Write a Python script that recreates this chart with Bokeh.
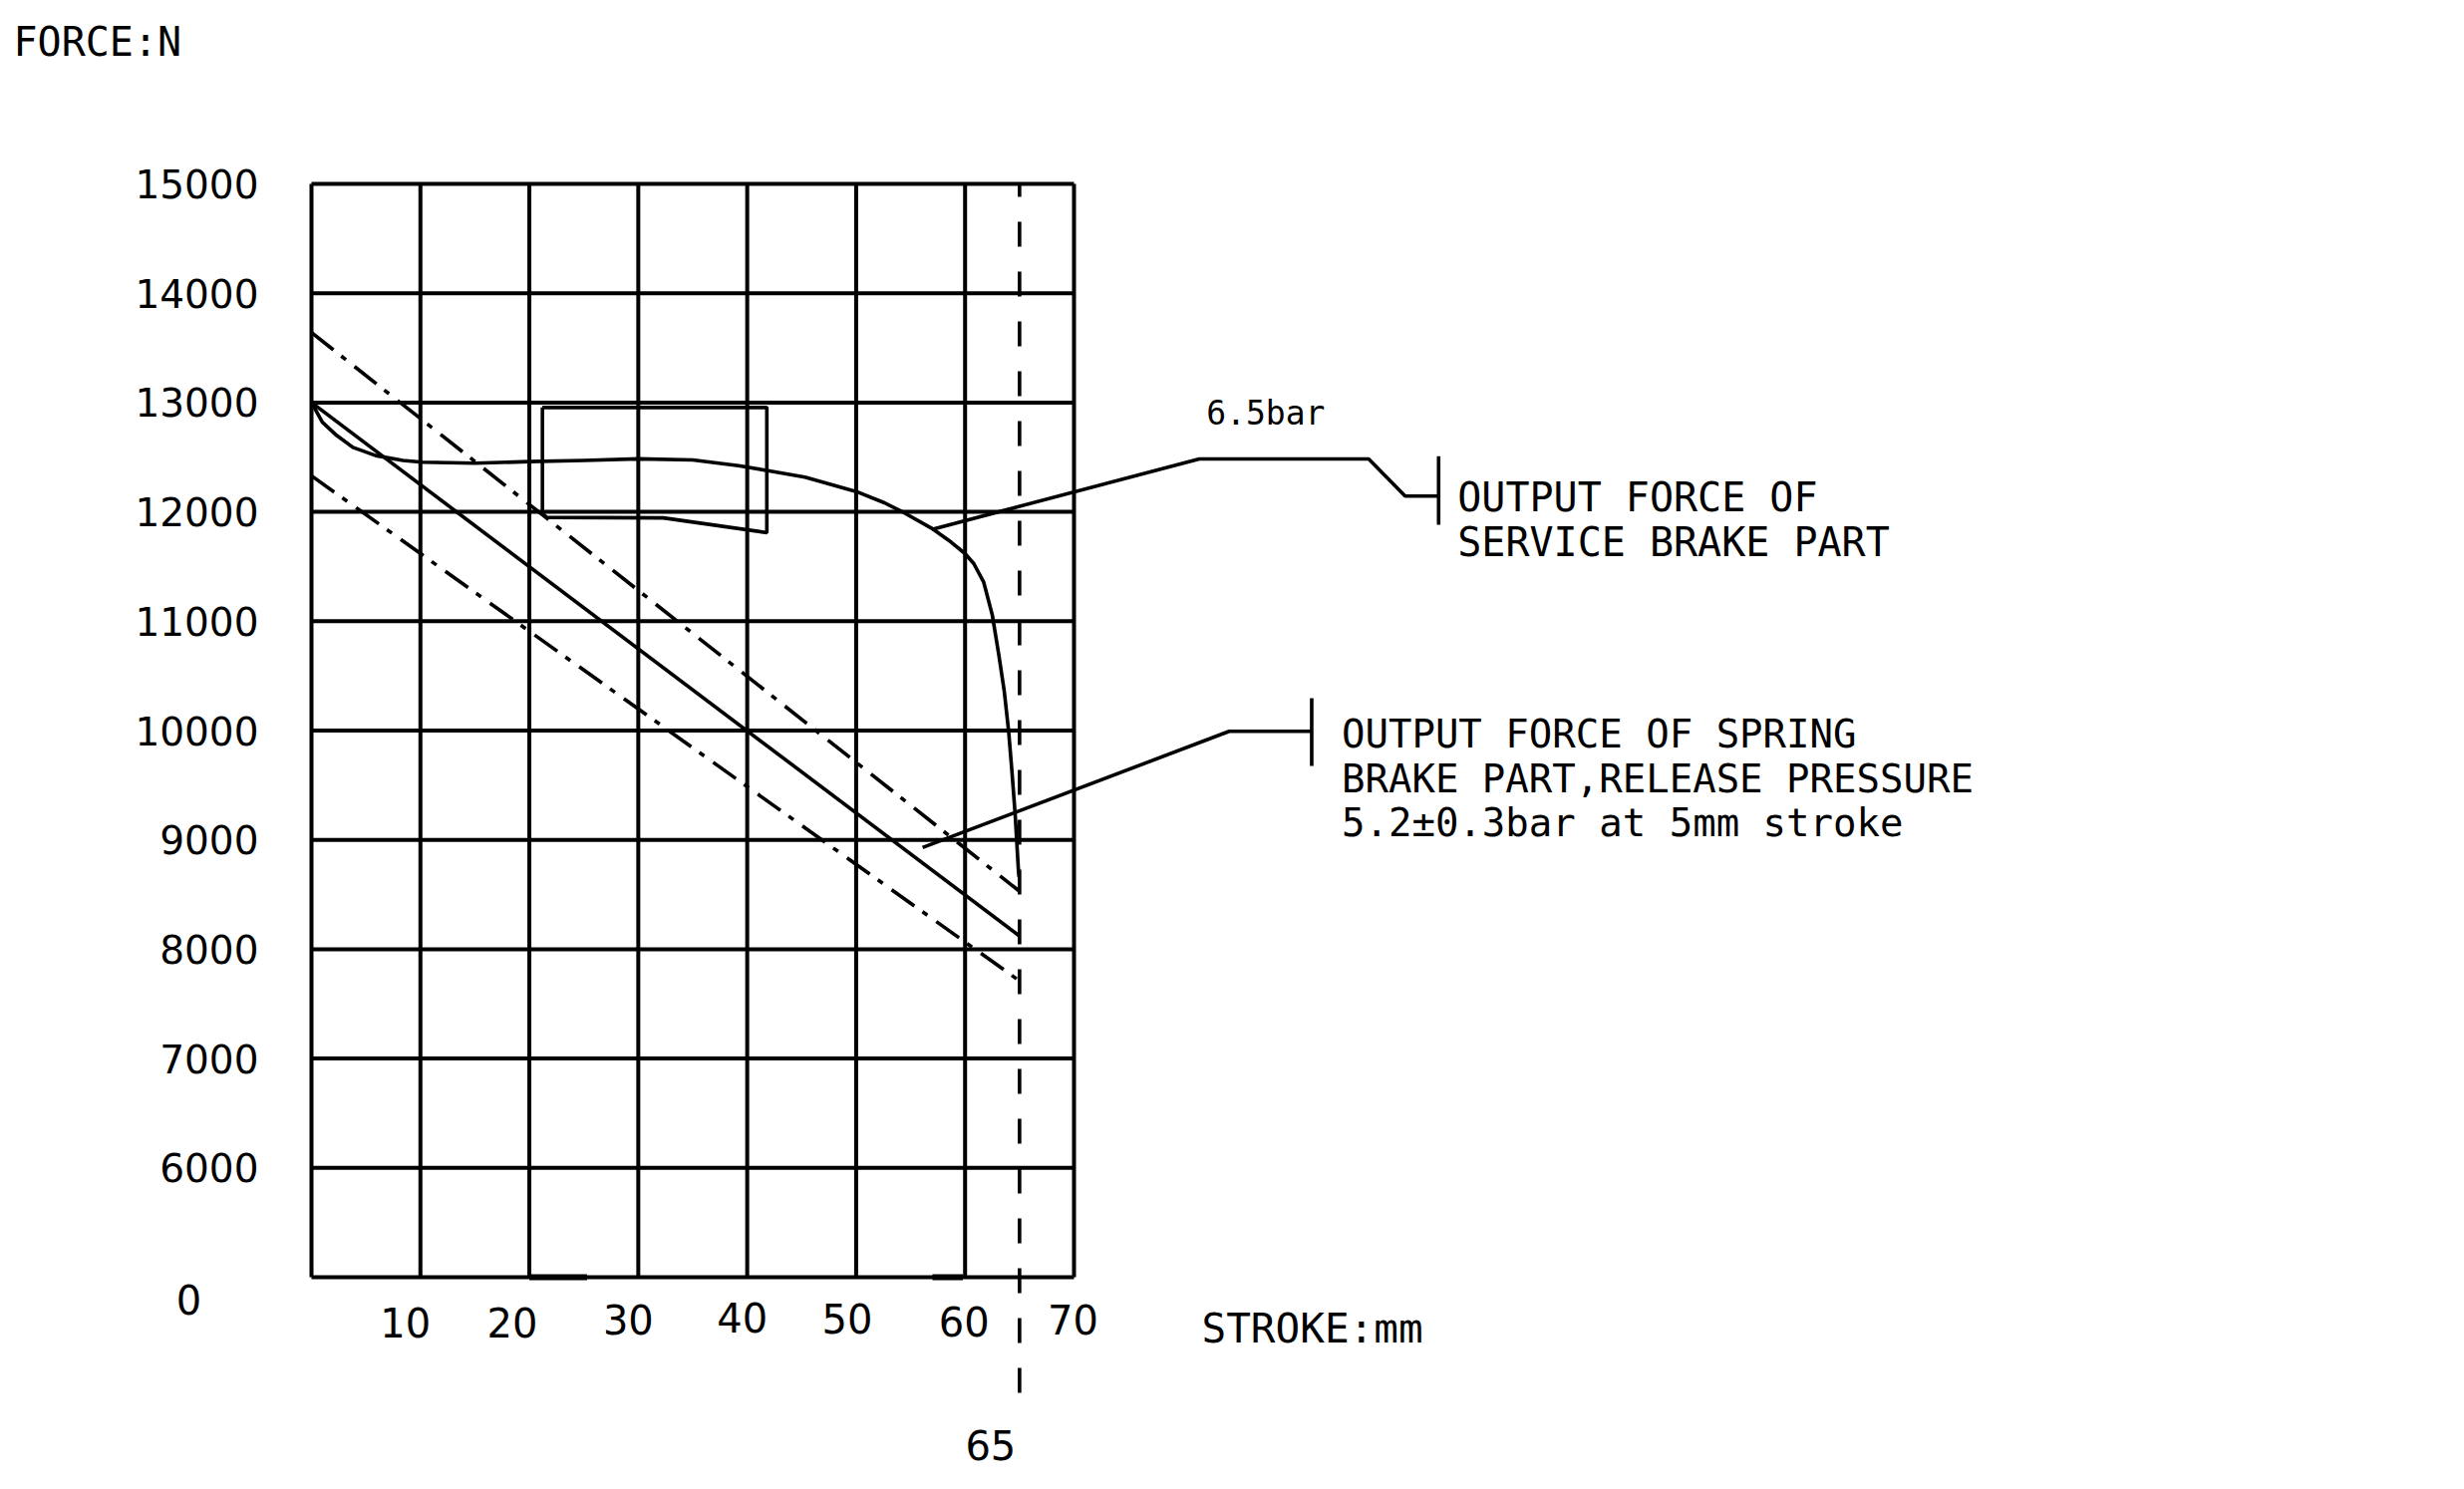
from bokeh.plotting import figure
from bokeh.models import Range1d
from bokeh.embed import file_html
from bokeh.resources import INLINE
from bokeh.core.properties import value

# ---------------- data ----------------
x_grid = [0, 10, 20, 30, 40, 50, 60, 70]                 # stroke, mm
y_grid = [5000, 6000, 7000, 8000, 9000, 10000, 11000, 12000, 13000, 14000, 15000]  # force, N
y_tick_values = [6000, 7000, 8000, 9000, 10000, 11000, 12000, 13000, 14000, 15000]
y_tick_labels = ["6000", "7000", "8000", "9000", "10000", "11000", "12000", "13000", "14000", "15000"]
y_zero_label = "0"            # bottom of the broken axis
x_tick_values = [10, 20, 30, 40, 50, 60, 70]
x_tick_labels = ["10", "20", "30", "40", "50", "60", "70"]
stroke_limit = 65             # mm
stroke_limit_label = "65"

# service brake part, 6.5 bar
service_x = [0, 1.0, 2.3, 3.8, 5.9, 8.4, 10.2, 15.0, 20, 25, 30, 35, 39.2, 41.9, 45.3,
             50.0, 52.6, 54.4, 56.9, 58.7, 60.0, 60.8, 61.7, 62.5, 63.1, 63.6, 64.0,
             64.3, 64.6, 64.9, 64.95]
service_y = [13000, 12820, 12700, 12590, 12515, 12470, 12455, 12445, 12460, 12470, 12485,
             12475, 12423, 12377, 12317, 12186, 12083, 11992, 11852, 11725, 11618, 11527,
             11360, 11056, 10691, 10357, 9993, 9628, 9232, 8716, 8660]

# spring brake part: nominal and tolerance band
spring_x = [0, 65]
spring_y = [13000, 8120]
spring_upper_y = [13640, 8530]
spring_lower_y = [12330, 7710]

# tolerance box
box_x = [21.2, 41.8, 41.8, 32.3, 21.6, 21.2, 21.2]
box_y = [12955, 12955, 11810, 11945, 11950, 11985, 12955]

# leader lines
service_leader_x = [56.95, 81.5, 97.05, 100.4, 103.47]
service_leader_y = [11840, 12484, 12484, 12144, 12144]
service_bar_x = [103.47, 103.47]
service_bar_y = [12509, 11882]
spring_leader_x = [56.1, 84.25, 91.82]
spring_leader_y = [8930, 9993, 9993]
spring_bar_x = [91.82, 91.82]
spring_bar_y = [10296, 9676]

pressure_label = "6.5bar"
service_text = ["OUTPUT FORCE OF", "SERVICE BRAKE PART"]
spring_text = ["OUTPUT FORCE OF SPRING", "BRAKE PART,RELEASE PRESSURE", "5.2\u00b10.3bar at 5mm stroke"]
y_title = "FORCE:N"
x_title = "STROKE:mm"

# ---------------- layout ----------------
W, H = 2456, 1478
PX_MM = 765 / 70.0          # px per mm
PX_N = 1097 / 10000.0       # px per N
x0 = -312 / PX_MM
y1 = 15000 + 184 / PX_N

p = figure(width=W, height=H, output_backend="svg", toolbar_location=None,
           x_range=Range1d(x0, x0 + W / PX_MM), y_range=Range1d(y1 - H / PX_N, y1),
           x_axis_type=None, y_axis_type=None, min_border=0)
p.outline_line_color = None
p.grid.visible = False
p.background_fill_color = "white"
p.border_fill_color = "white"

BLACK = "#000000"
GRID_W = 4.0
CURVE_W = 3.6

def dx(px):
    return px / PX_MM

def dy(px):
    return px / PX_N

TS = 14  # text baseline correction, px

# grid
p.segment(x0=x_grid, y0=[y_grid[0]] * len(x_grid), x1=x_grid, y1=[y_grid[-1]] * len(x_grid),
          line_color=BLACK, line_width=GRID_W)
p.segment(x0=[x_grid[0]] * len(y_grid), y0=y_grid, x1=[x_grid[-1]] * len(y_grid), y1=y_grid,
          line_color=BLACK, line_width=GRID_W)
# slightly heavier stretches on the bottom edge
p.segment(x0=[20.0, 57.0], y0=[y_grid[0]] * 2, x1=[25.3, 59.8], y1=[y_grid[0]] * 2,
          line_color=BLACK, line_width=6)

# 65 mm stroke limit
p.line([stroke_limit, stroke_limit], [y_grid[-1], y_grid[0] - dy(119)],
       line_color=BLACK, line_width=CURVE_W, line_dash="25 25", line_dash_offset=12)

# curves
p.line(spring_x, spring_y, line_color=BLACK, line_width=CURVE_W)
p.line(spring_x, spring_upper_y, line_color=BLACK, line_width=CURVE_W, line_dash="28 10 6 11")
p.line(spring_x, spring_lower_y, line_color=BLACK, line_width=CURVE_W, line_dash="28 10 6 11")
p.line(service_x, service_y, line_color=BLACK, line_width=CURVE_W, line_join="round")
p.line(box_x, box_y, line_color=BLACK, line_width=CURVE_W)

# leaders
p.line(service_leader_x, service_leader_y, line_color=BLACK, line_width=CURVE_W)
p.line(service_bar_x, service_bar_y, line_color=BLACK, line_width=CURVE_W)
p.line(spring_leader_x, spring_leader_y, line_color=BLACK, line_width=CURVE_W)
p.line(spring_bar_x, spring_bar_y, line_color=BLACK, line_width=CURVE_W)

NUM_FONT = value("DejaVu Sans")
TXT_FONT = value("DejaVu Sans Mono")

# y tick labels (right aligned, centred on the grid lines)
p.text(x=[x_grid[0] - dx(53)] * len(y_tick_values), y=[v - dy(14 - TS) for v in y_tick_values],
       text=y_tick_labels, text_font=NUM_FONT, text_font_size="39px",
       text_align="right", text_baseline="alphabetic", text_color=BLACK)
p.text(x=[x_grid[0] - dx(123)], y=[y_grid[0] - dy(36 - TS)], text=[y_zero_label],
       text_font=NUM_FONT, text_font_size="40px", text_align="center",
       text_baseline="alphabetic", text_color=BLACK)

# x tick labels (slightly staggered as in the drawing)
x_off_px = [-15, -17, -10, -5, -9, -1, -1]
y_off_px = [59, 59, 56, 54, 55, 58, 56]
p.text(x=[v + dx(o) for v, o in zip(x_tick_values, x_off_px)],
       y=[y_grid[0] - dy(o - TS) for o in y_off_px],
       text=x_tick_labels, text_font=NUM_FONT, text_font_size="40px",
       text_align="center", text_baseline="alphabetic", text_color=BLACK)
p.text(x=[stroke_limit - dx(29)], y=[y_grid[0] - dy(182 - TS)], text=[stroke_limit_label],
       text_font=NUM_FONT, text_font_size="40px", text_align="center",
       text_baseline="alphabetic", text_color=BLACK)

# axis titles
p.text(x=[x_grid[0] - dx(299)], y=[y_grid[-1] + dy(129 + TS)], text=[y_title],
       text_font=TXT_FONT, text_font_size="40px", text_align="left",
       text_baseline="alphabetic", text_color=BLACK)
p.text(x=[x_grid[-1] + dx(128)], y=[y_grid[0] - dy(65 - TS)], text=[x_title],
       text_font=TXT_FONT, text_font_size="41px", text_align="left",
       text_baseline="alphabetic", text_color=BLACK)

# annotations
p.text(x=[service_leader_x[1] + dx(7)], y=[service_leader_y[1] + dy(32 + TS)], text=[pressure_label],
       text_font=TXT_FONT, text_font_size="33px", text_align="left",
       text_baseline="alphabetic", text_color=BLACK)
p.text(x=[service_bar_x[0] + dx(19)] * 2,
       y=[service_leader_y[-1] - dy(15 - TS), service_leader_y[-1] - dy(60 - TS)],
       text=service_text, text_font=TXT_FONT, text_font_size="40px", text_align="left",
       text_baseline="alphabetic", text_color=BLACK)
p.text(x=[spring_bar_x[0] + dx(30)] * 3,
       y=[spring_leader_y[-1] - dy(17 - TS), spring_leader_y[-1] - dy(62 - TS),
          spring_leader_y[-1] - dy(106 - TS)],
       text=spring_text, text_font=TXT_FONT, text_font_size="39px", text_align="left",
       text_baseline="alphabetic", text_color=BLACK)

open("out.html", "w").write(file_html(p, INLINE))
